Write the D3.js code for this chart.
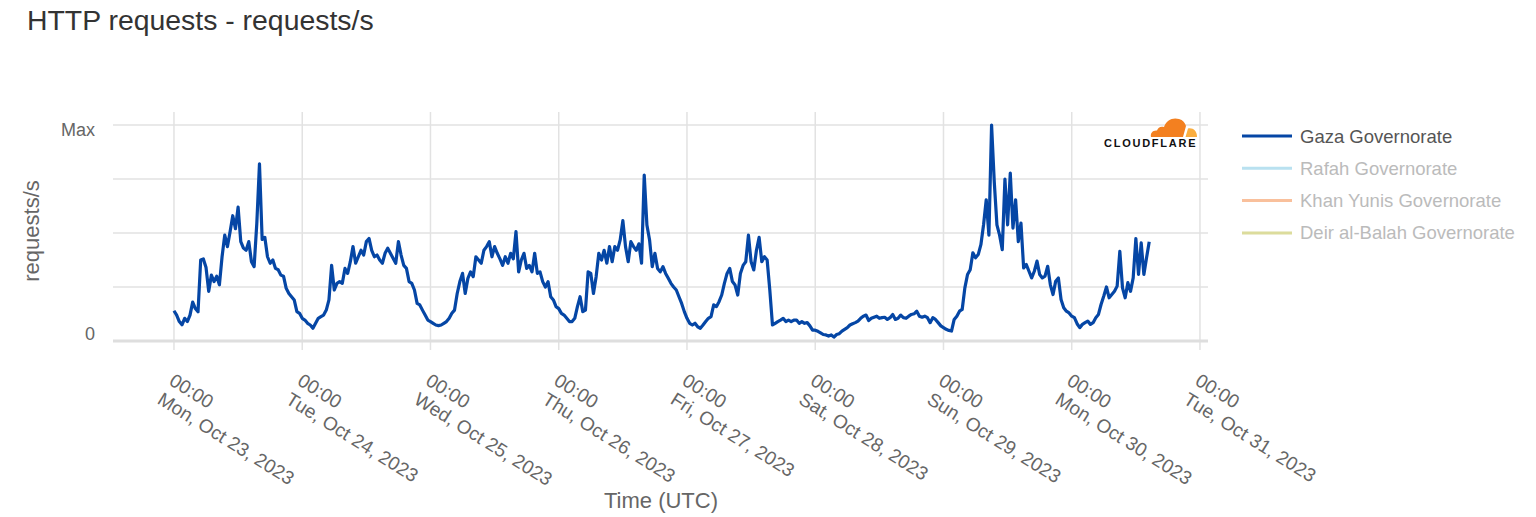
<!DOCTYPE html>
<html>
<head>
<meta charset="utf-8">
<script src="https://cdn.jsdelivr.net/npm/d3@7"></script>
<style>
  html, body { margin: 0; padding: 0; background: #fff; }
  svg { display: block; font-family: "Liberation Sans", Arial, Helvetica, sans-serif; }
</style>
</head>
<body>
<svg id="chart" width="1536" height="517"></svg>
<script>
// ---- Data: 30-minute samples, normalised so that the peak = Max = 100 ----
const dayStarts = ["2023-10-23","2023-10-24","2023-10-25","2023-10-26","2023-10-27","2023-10-28","2023-10-29","2023-10-30"];
const oct23 = [14,12,9,7.5,10.5,9,12,18,15,13.5, 37.5,38,34,23,30.5,27.5,30,26,39,49, 43.7,50.6,58,52,62,46,43,42,46,36.7, 34.4,54.5,82,47,48,39,36,37.5,33.6,33, 30.5,30,24.4,22,20.5,19,13.6,12.8];
const oct24 = [10.5,9.7,8.2,7.4,5.9,8.2,10.5,11.3,12,14.3, 19,35,23.6,26.7,27.5,26.7,33.6,31.3,36.7,43.7, 36,39,42,39.8,46,47.5,42,39,39.8,37.5, 36,40.6,43,40.6,38.3,36,46,39.8,35,33.6, 27.5,26.7,23.6,17.4,16.7,14.3,12,9.7];
const oct25 = [9,8.2,7.4,7.1,7.4,8.2,9,10.5,12.8,14.3, 22,27.5,31.3,22,29,32,29.8,39,37.5,36, 42,43.7,46,39,43.7,40.6,38,35,39,36, 40.6,38,50.6,32,37.5,40.6,33.6,35,32,40.6, 31.3,32,27.5,25,27.5,20.5,19,15.9];
const oct26 = [15,12.8,12,10.5,9,9,10.5,15.9,20.5,13.6, 14.3,32,31.3,22,29.8,40.6,37.5,42,36,43.7, 36.7,43.7,42,46.8,55.7,43.7,36.7,46,43.7,42, 45,36,76.8,53.7,46.8,34.4,40.6,33.6,32,34.4, 31.3,29,26.7,25,23.6,20.5,17.4,13.6];
const oct27 = [10.5,8.2,7.4,8.2,6.6,5.9,7.4,9,10.5,11.3, 16.7,15.9,18.2,21.3,26.7,31.3,33.6,27.5,25.9,21.3, 31.3,35,36.7,49,36.7,32.9,42,48,36.7,39, 37.5,23.6,7.4,8.2,9,9.7,10.5,9,9.7,9, 9.7,9.7,8.2,9,8.2,8.5,7,5];
const oct28 = [5,4.5,3.8,3,2.8,2.3,2.8,1.8,3,3.4, 4.6,5.4,6.2,7.4,8,8.5,9.2,10.5,11.5,12, 9.5,10.5,11,11.5,10.5,10.8,11,10,10.8,12.3, 10,10.5,12,10.8,10.5,11.5,12.3,12.6,13.8,11.5, 11,11.5,10.8,8.5,10.8,10,8.5,7];
const oct29 = [6.2,5.4,4.9,4.6,10,11.5,13.8,14.6,24.6,30.8, 33,40.8,38.5,40,44.6,53.8,65.4,49,100,73.8, 53.8,49,42.3,75,53.8,77.7,52.3,65.4,46,54.6, 33.8,35.4,32.3,29.2,32.3,37,30.8,29.2,30,34.6, 26,21.5,27.7,29.2,19.2,15.4,13.8,13];
const oct30 = [11.5,10.8,8,6.2,7.7,8.5,9.2,7.7,8.5,10.8, 12.3,17,20.8,25,20,21.5,23,25.4,41.5,24.6, 20,27,23,29.2,47.4,30.8,45.4,30.8,38.5,46];
const dailyValues = [oct23, oct24, oct25, oct26, oct27, oct28, oct29, oct30];
const stepMinutes = 30;

const yTicks = [0, 25, 50, 75, 100];
const yTickLabels = {0: "0", 100: "Max"};
const tickDays = ["2023-10-23","2023-10-24","2023-10-25","2023-10-26","2023-10-27","2023-10-28","2023-10-29","2023-10-30","2023-10-31"];

const seriesNames = ["Gaza Governorate", "Rafah Governorate", "Khan Yunis Governorate", "Deir al-Balah Governorate"];
const seriesColors = ["#0546a5", "#b9e1f0", "#f9c09c", "#dcdc9c"];
const seriesActive = [true, false, false, false];

// ---- Build point list ----
const MIN = 60 * 1000, HOUR = 60 * MIN;
const points = [];
dailyValues.forEach((vals, di) => {
  const start = new Date(dayStarts[di] + "T00:00:00Z").getTime();
  vals.forEach((v, k) => points.push({ t: new Date(start + k * stepMinutes * MIN), v }));
});

const svg = d3.select("#chart");
const plotLeft = 113, plotRight = 1208, plotTop = 112, yTop = 125, yBottom = 341;

const t0 = new Date("2023-10-23T00:00:00Z").getTime();
const t8 = new Date("2023-10-31T00:00:00Z").getTime();
const x = d3.scaleUtc()
  .domain([new Date(t0 - 11.41 * HOUR), new Date(t8 + 1.5 * HOUR)])
  .range([plotLeft, plotRight]);
const y = d3.scaleLinear().domain([0, 100]).range([yBottom, yTop]);

// Title
svg.append("text").attr("x", 27).attr("y", 30)
  .attr("font-size", 28.4).attr("fill", "#333").text("HTTP requests - requests/s");

// Horizontal grid
const tickDates = tickDays.map(d => new Date(d + "T00:00:00Z"));
svg.append("g").selectAll("line").data(yTicks.filter(d => d > 0)).join("line")
  .attr("x1", plotLeft).attr("x2", plotRight)
  .attr("y1", d => y(d)).attr("y2", d => y(d))
  .attr("stroke", "#e2e2e2").attr("stroke-width", 1.5);

// Vertical grid + ticks
svg.append("g").selectAll("line").data(tickDates).join("line")
  .attr("x1", d => x(d)).attr("x2", d => x(d))
  .attr("y1", plotTop).attr("y2", yBottom + 9)
  .attr("stroke", "#e2e2e2").attr("stroke-width", 1.5);

// X axis baseline
svg.append("line").attr("x1", plotLeft).attr("x2", plotRight)
  .attr("y1", yBottom).attr("y2", yBottom)
  .attr("stroke", "#dedede").attr("stroke-width", 3);

// Y labels
svg.append("g").selectAll("text").data(yTicks.filter(d => yTickLabels[d] !== undefined)).join("text")
  .attr("x", 95).attr("y", d => y(d) + (d === 0 ? -1 : 11))
  .attr("text-anchor", "end").attr("font-size", 18).attr("fill", "#666")
  .text(d => yTickLabels[d]);

// Y title
svg.append("text").attr("transform", "translate(39,231) rotate(-90)")
  .attr("text-anchor", "middle").attr("font-size", 22).attr("fill", "#666")
  .text("requests/s");

// X labels
const fmtDay = d3.utcFormat("%a, %b %d, %Y");
const fmtTime = d3.utcFormat("%H:%M");
const xl = svg.append("g").selectAll("g").data(tickDates).join("g")
  .attr("transform", d => `translate(${x(d) - 6},${384}) rotate(32)`);
xl.append("text").attr("x", 0).attr("y", 0)
  .attr("font-size", 19).attr("fill", "#666").text(d => fmtTime(d));
xl.append("text").attr("x", 0).attr("y", 22)
  .attr("font-size", 19).attr("fill", "#666").text(d => fmtDay(d));

// X title
svg.append("text").attr("x", 661).attr("y", 508).attr("text-anchor", "middle")
  .attr("font-size", 22).attr("fill", "#666").text("Time (UTC)");

// Line
const line = d3.line().x(d => x(d.t)).y(d => y(d.v));
svg.append("path").datum(points)
  .attr("d", line).attr("fill", "none")
  .attr("stroke", seriesColors[0]).attr("stroke-width", 3.2)
  .attr("stroke-linejoin", "round");

// Cloudflare logo
const logo = svg.append("g").attr("transform", "translate(1150,117)");
logo.append("path")
  .attr("d", "M1 20 C0 16 3 13 7 13.5 C8 10 11 9 14 10 C16 3 23 0 29 2 C33 3 35 6 36 9 L33 20 Z")
  .attr("fill", "#f38020");
logo.append("path")
  .attr("d", "M35.5 20 L38 11.5 C43 10.5 47 14 47 20 Z")
  .attr("fill", "#faae40");
svg.append("text").attr("x", 1104).attr("y", 147)
  .attr("font-size", 11).attr("font-weight", "bold").attr("letter-spacing", 1.75)
  .attr("fill", "#111").text("CLOUDFLARE");

// Legend
const lg = svg.append("g").selectAll("g").data(seriesNames).join("g")
  .attr("transform", (d, i) => `translate(1242,${136 + i * 32.3})`);
lg.append("line").attr("x1", 0).attr("x2", 50).attr("y1", 0).attr("y2", 0)
  .attr("stroke", (d, i) => seriesColors[i]).attr("stroke-width", 3);
lg.append("text").attr("x", 58).attr("y", 6.5)
  .attr("font-size", 18.5).attr("fill", (d, i) => seriesActive[i] ? "#555" : "#bbb")
  .text(d => d);
</script>
</body>
</html>
